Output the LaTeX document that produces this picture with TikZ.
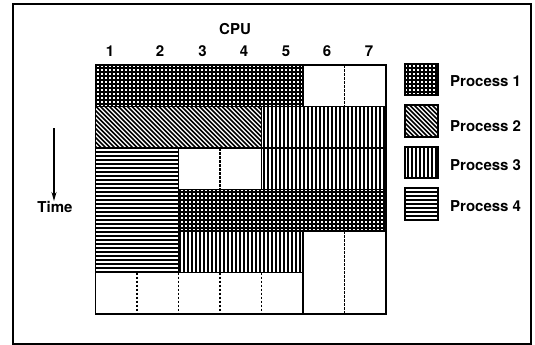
\documentclass[tikz,border=0pt]{standalone}
\usepackage{fontspec}
\setmainfont{TeX Gyre Heros}
\usetikzlibrary{arrows.meta}
\newcommand\pvlines[4]{\begin{scope}\clip (#1,#2) rectangle (#3,#4);
  \foreach \x in {92,96,...,444} \draw[pline] (\x,#2) -- (\x,#4);\end{scope}}
\newcommand\phlines[4]{\begin{scope}\clip (#1,#2) rectangle (#3,#4);
  \foreach \y in {60,64,...,320} \draw[pline] (#1,\y) -- (#3,\y);\end{scope}}
\newcommand\pdlines[4]{\begin{scope}\clip (#1,#2) rectangle (#3,#4);
  \foreach \c in {-240,-235.5,...,440} \draw[dline] (\c,0) -- ({\c+340},340);\end{scope}}
\newcommand\pgrid[4]{\begin{scope}\clip (#1,#2) rectangle (#3,#4);
  \foreach \x in {92,96,...,444} \draw[gline] (\x,#2) -- (\x,#4);
  \foreach \y in {60,64,...,320} \draw[gline] (#1,\y) -- (#3,\y);\end{scope}}
\begin{document}
\begin{tikzpicture}[x=1pt,y=-1pt,
  pline/.style={line width=1.8pt},
  dline/.style={line width=1.5pt},
  gline/.style={line width=2pt},
  cell/.style={draw=black,line width=1.8pt},
  sep/.style={draw=black,line width=1.8pt,dash pattern=on 2.5pt off 1.5pt},
  lab/.style={font=\fontsize{15}{17}\selectfont\bfseries,inner sep=0pt,anchor=base}]
\useasboundingbox (0,0) rectangle (535,345);
\draw[line width=2pt] (13,4) rectangle (531,344);
% header
\node[lab] (cpu) at (235,35) {CPU};
\foreach \n/\x in {1/110,2/160,3/202.5,4/244,5/286,6/327,7/369}
  \node[lab] (c\n) at (\x,56.5) {\n};
% chart fills
\pgrid{95.5}{65}{303}{106.5}
\pdlines{95.5}{106.5}{261.5}{148}
\pvlines{261.5}{106.5}{386}{189.5}
\phlines{95.5}{148}{178.5}{272.5}
\pgrid{178.5}{189.5}{386}{231}
\pvlines{178.5}{231}{303}{272.5}
% dashed separators
\draw[sep] (344.5,65) -- (344.5,106.5);
\draw[sep] (220,148) -- (220,189.5);
\draw[sep] (344.5,231) -- (344.5,314);
\foreach \x in {137,178.5,220,261.5,303}
  \draw[sep] (\x,272.5) -- (\x,314);
% outlines
\draw[cell] (95.5,65) rectangle (303,106.5);
\draw[cell] (303,65) rectangle (386,106.5);
\draw[cell] (95.5,106.5) rectangle (261.5,148);
\draw[cell] (261.5,106.5) rectangle (386,148);
\draw[cell] (95.5,148) rectangle (178.5,272.5);
\draw[cell] (178.5,148) rectangle (261.5,189.5);
\draw[cell] (261.5,148) rectangle (386,189.5);
\draw[cell] (178.5,189.5) rectangle (386,231);
\draw[cell] (178.5,231) rectangle (303,272.5);
\draw[cell] (303,231) rectangle (386,314);
\draw[cell] (95.5,272.5) rectangle (303,314);
% time arrow
\coordinate (ta) at (54,128);
\coordinate (tb) at (54,201);
\draw[line width=1.2pt,-{Stealth[length=9pt,width=5pt]}] (ta) -- (tb);
\node[lab] (time) at (55,212) {Time};
% legend
\pgrid{405}{64}{438}{95}
\pdlines{405}{105}{438}{137}
\pvlines{405}{147}{438}{178}
\phlines{405}{188}{438}{220}
\foreach \i/\ya/\yb/\yt in {1/64/95/86.7,2/105/137/131.7,3/147/178/170,4/188/220/211.7}{
  \draw[cell] (405,\ya) rectangle (438,\yb);
  \node[lab,anchor=base west] (l\i) at (450,\yt) {Process \i};
}
\end{tikzpicture}
\end{document}
